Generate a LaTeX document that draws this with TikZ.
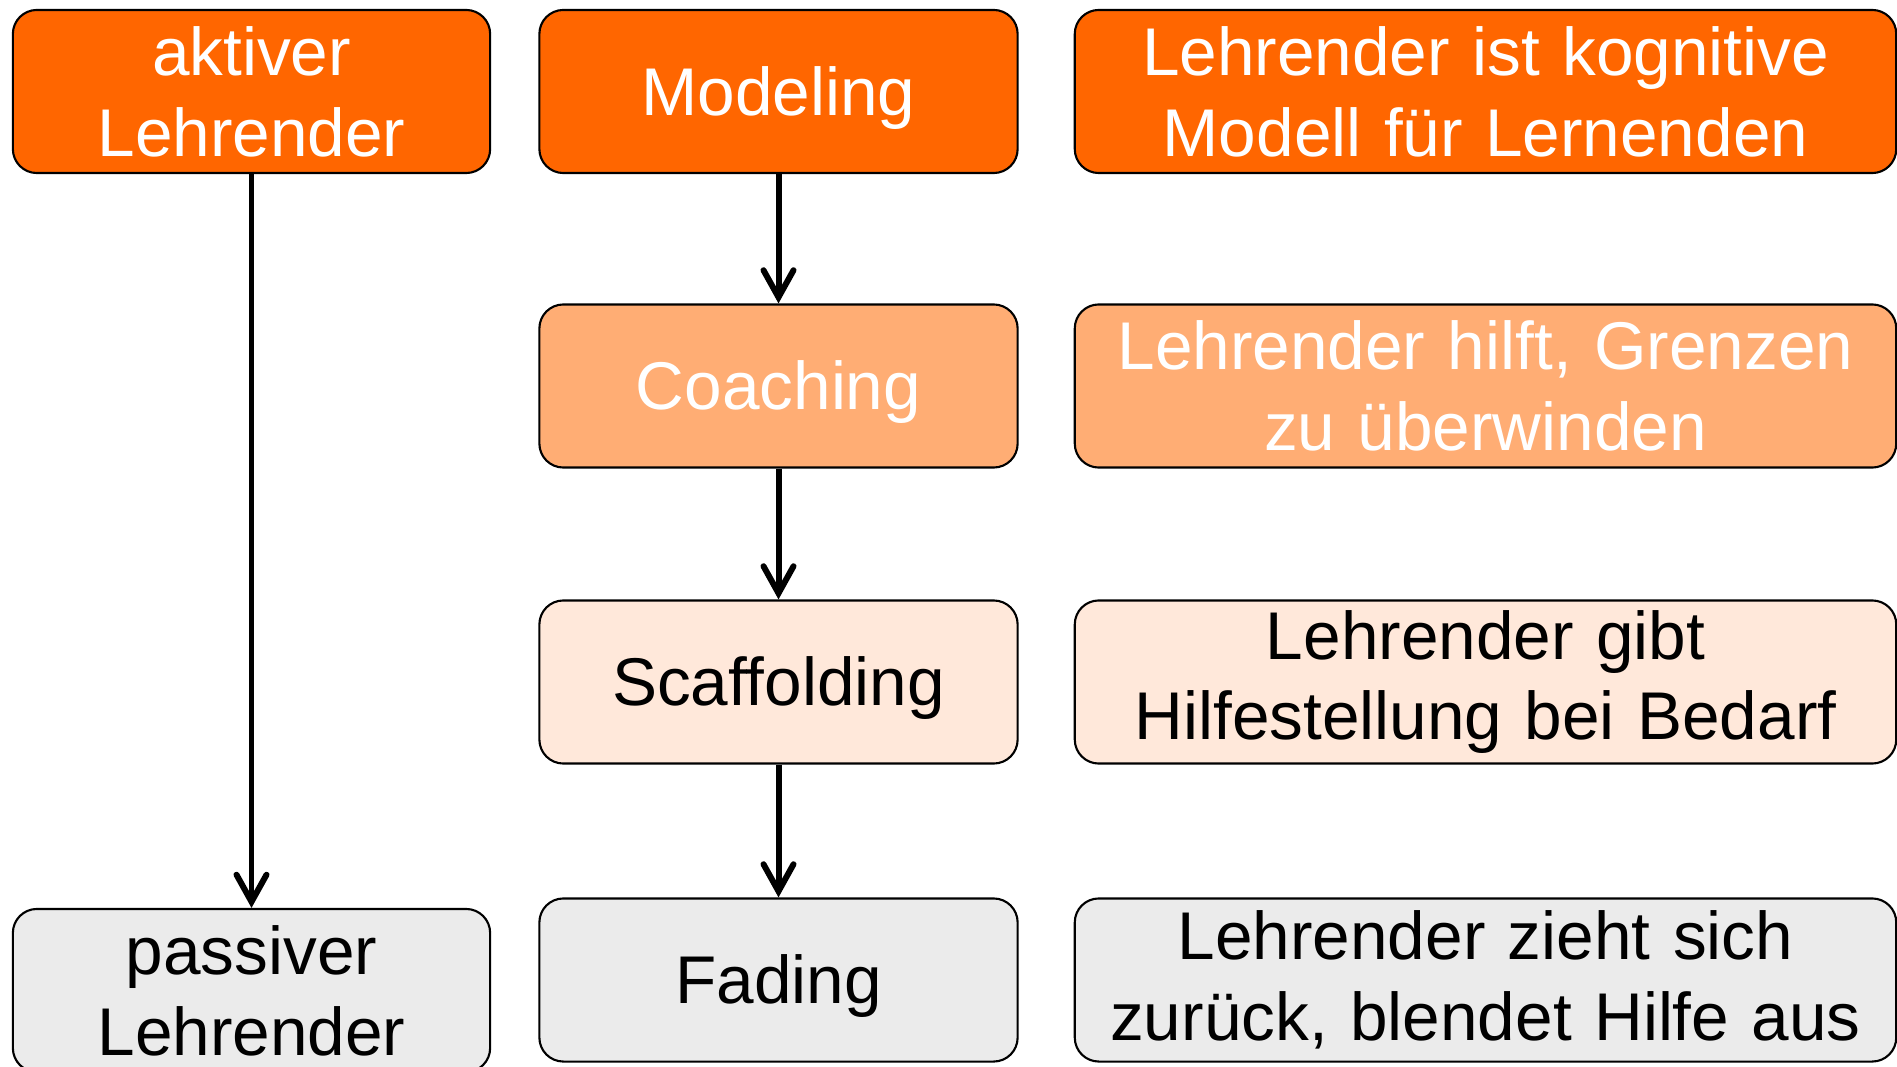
\documentclass[tikz,border=0pt]{standalone}
\usepackage{fontspec}
\setmainfont{Liberation Sans}
\usetikzlibrary{arrows.meta}
\definecolor{cDark}{RGB}{255,102,0}
\definecolor{cMid}{RGB}{255,173,116}
\definecolor{cLight}{RGB}{255,232,218}
\definecolor{cGrey}{RGB}{235,235,235}
\tikzset{
  box/.style={draw=black, line width=0.6pt, rounded corners=0.24cm, rectangle,
    minimum height=1.63cm, inner sep=0pt, align=center,
    font=\fontsize{19.2pt}{23pt}\selectfont},
  colA/.style={box, minimum width=4.77cm, text width=4.6cm},
  colB/.style={box, minimum width=4.78cm, text width=4.6cm, text height=0.61cm, text depth=0.14cm},
  colC/.style={box, minimum width=8.21cm, text width=8.0cm},
  flow/.style={line width=1.7pt, -{Straight Barb[length=0.27cm, width=0.3cm, line width=1.7pt, line cap=round]}}
}
\begin{document}
\begin{tikzpicture}[x=0.01cm, y=-0.01cm]
\clip (0,0) rectangle (1897,1067);
\fill[white] (0,0) rectangle (1897,1067);
% left column
\node[colA, fill=cDark, text=white] (aktiv) at (251.5,91.5) {aktiver\\Lehrender};
\node[colA, fill=cGrey, text=black] (passiv) at (251.5,990.5) {passiver\\Lehrender};
% middle column
\node[colB, fill=cDark, text=white] (model) at (778.5,91.5) {Modeling};
\node[colB, fill=cMid, text=white] (coach) at (778.5,386) {Coaching};
\node[colB, fill=cLight, text=black] (scaff) at (778.5,682) {Scaffolding};
\node[colB, fill=cGrey, text=black] (fade) at (778.5,980) {Fading};
% right column
\node[colC, fill=cDark, text=white] (d1) at (1485.5,91.5) {Lehrender ist kognitive\\Modell für Lernenden};
\node[colC, fill=cMid, text=white] (d2) at (1485.5,386) {Lehrender hilft, Grenzen\\zu überwinden};
\node[colC, fill=cLight, text=black] (d3) at (1485.5,682) {Lehrender gibt\\Hilfestellung bei Bedarf};
\node[colC, fill=cGrey, text=black] (d4) at (1485.5,980) {Lehrender zieht sich\\zurück, blendet Hilfe aus};
% connectors
\draw[flow] (aktiv.south) -- (passiv.north);
\draw[flow] (model.south) -- (coach.north);
\draw[flow] (coach.south) -- (scaff.north);
\draw[flow] (scaff.south) -- (fade.north);
\end{tikzpicture}
\end{document}
